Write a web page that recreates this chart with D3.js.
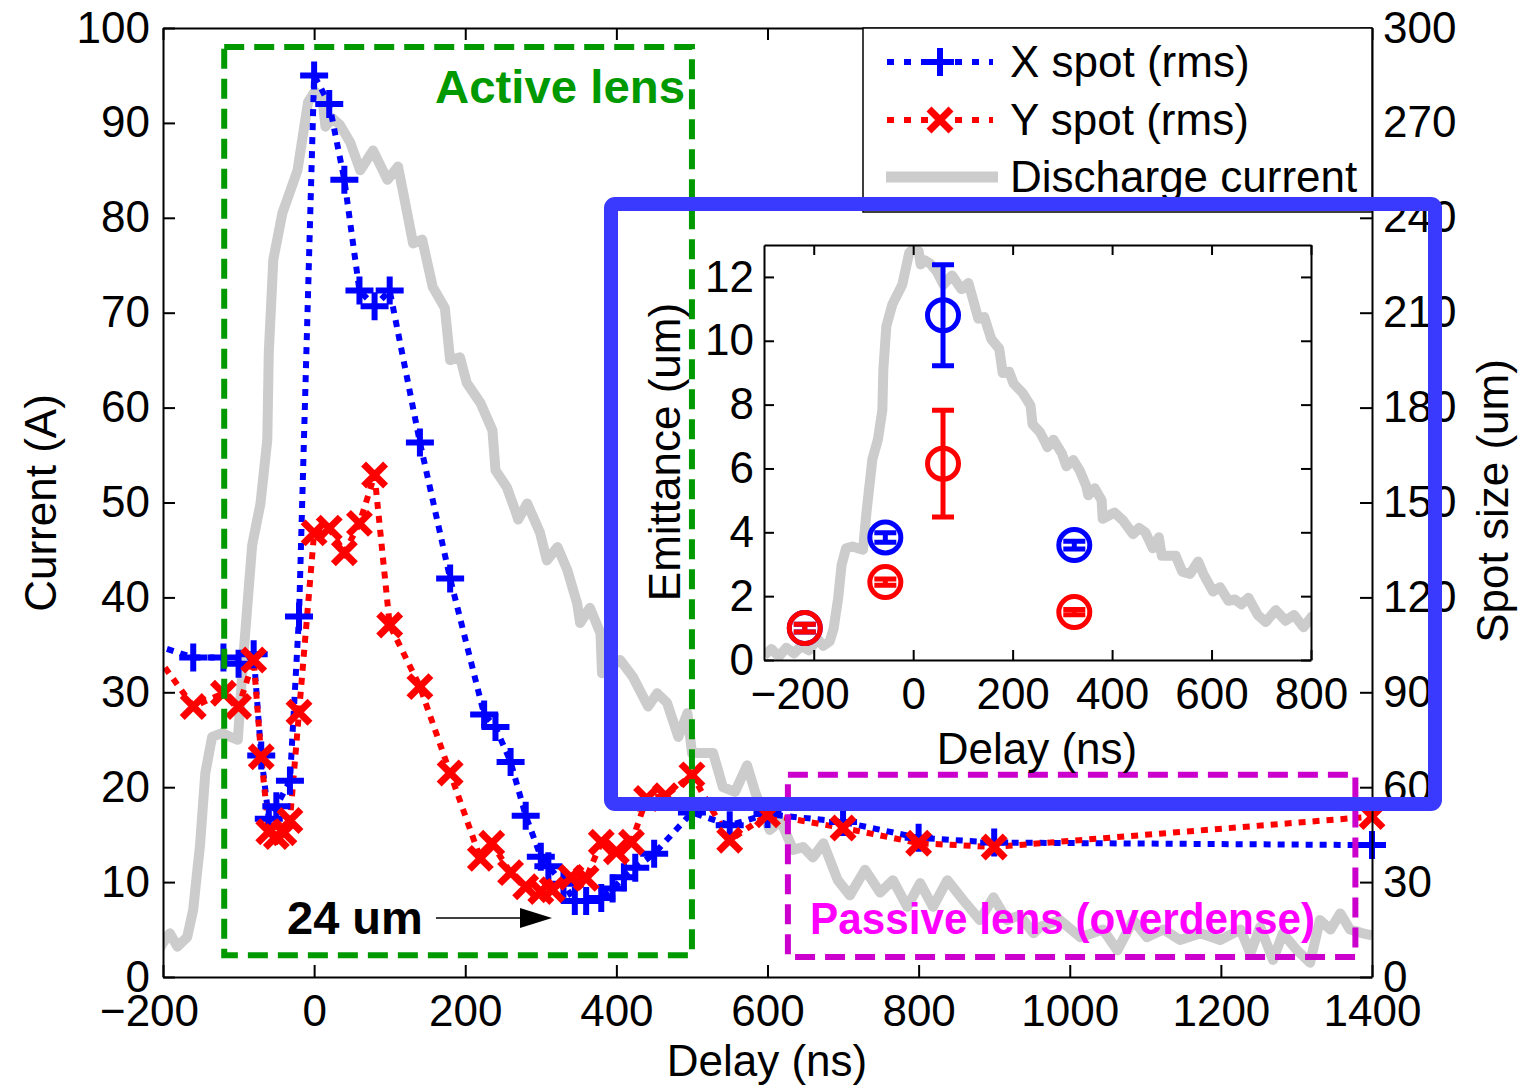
<!DOCTYPE html>
<html>
<head>
<meta charset="utf-8">
<script src="https://cdn.jsdelivr.net/npm/d3@7"></script>
<style>
  body { margin: 0; background: #fff; }
  svg text { font-family: "Liberation Sans", Arial, sans-serif; }
</style>
</head>
<body>
<div id="chart"></div>
<script>
// X spot (rms), um
const xSpotDelay = [-230, -160, -120, -100, -80, -70, -60, -50, -32, -20, 0, 20, 40, 60, 80, 100, 140, 180, 225, 240, 260, 280, 300, 310, 330, 345, 360, 380, 395, 410, 425, 450, 500, 550, 600, 700, 800, 900, 1400]
const xSpotSize = [106.5, 101, 101, 99, 102, 70, 50, 54, 62, 114, 285, 276, 252, 217, 212, 217, 169, 126, 83, 79, 68, 51, 38, 35, 29.5, 24, 24, 25, 28, 31.5, 34.5, 39, 52, 48, 51.5, 49, 44, 42.5, 41.7]

// Y spot (rms), um
const ySpotDelay = [-230, -160, -120, -100, -80, -70, -60, -50, -40, -32, -20, 0, 20, 40, 60, 80, 100, 140, 180, 220, 235, 260, 280, 300, 315, 340, 360, 380, 400, 420, 440, 465, 500, 550, 600, 700, 800, 900, 1400]
const ySpotSize = [108.6, 85.5, 89.7, 85.5, 100.2, 69.6, 45.9, 44.4, 45.6, 49.5, 83.7, 140.4, 141.9, 134.1, 143.4, 158.7, 111.3, 91.8, 64.5, 37.5, 42.3, 33, 28.5, 27, 27.6, 31.5, 31.2, 42.6, 39.6, 42.6, 56.4, 57.3, 63.9, 43.2, 51.3, 47.1, 42.3, 41.1, 50.7]

// discharge current, A
const currentDelay = [-300, -285, -270, -255, -240, -225, -210, -200, -191, -181, -168, -160, -156, -151, -144, -135, -122, -111, -101, -98, -94, -87, -82, -71, -62, -60, -54, -42, -22, -8, 1, 11, 15, 24, 34, 48, 61, 78, 97, 111, 118, 131, 143, 157, 173, 180, 193, 202, 220, 236, 240, 255, 266, 270, 282, 299, 308, 322, 335, 348, 352, 365, 379, 381, 405, 422, 442, 454, 467, 482, 494, 500, 511, 528, 541, 557, 573, 584, 603, 617, 634, 647, 660, 674, 693, 709, 729, 749, 766, 785, 802, 819, 838, 859, 881, 899, 917, 934, 952, 961, 987, 1014, 1044, 1063, 1084, 1102, 1124, 1146, 1173, 1199, 1226, 1239, 1252, 1269, 1282, 1301, 1318, 1331, 1345, 1358, 1371, 1388, 1400]
const currentAmp = [1.0, 2.5, 0.8, 2.8, 1.5, 3.2, 2.2, 3.6, 4.6, 3.2, 4.2, 7.1, 10.2, 13.9, 21.5, 25.3, 25.7, 25.3, 25.0, 28.5, 33.4, 40.5, 45.5, 49.9, 56.6, 65.8, 75.6, 80.5, 85.0, 92.2, 93.3, 92.6, 89.6, 90.5, 89.8, 87.9, 85.0, 87.1, 84.0, 85.4, 82.6, 77.3, 77.7, 72.7, 70.5, 65.0, 65.3, 62.6, 60.5, 57.6, 53.4, 51.6, 49.2, 48.2, 49.9, 46.8, 43.9, 45.3, 42.9, 39.4, 37.3, 38.9, 36.2, 32.0, 33.4, 31.6, 28.5, 29.9, 28.9, 25.3, 27.8, 23.6, 23.6, 23.6, 20.0, 19.5, 22.3, 19.4, 15.5, 16.5, 13.4, 13.7, 12.6, 14.1, 10.2, 8.6, 11.3, 8.9, 10.2, 7.4, 9.9, 7.4, 10.2, 8.1, 6.0, 8.4, 6.0, 6.5, 4.6, 5.3, 6.0, 4.2, 5.0, 2.8, 6.0, 4.2, 5.0, 3.9, 4.6, 3.9, 5.0, 2.5, 5.3, 1.8, 4.6, 2.8, 1.5, 6.0, 5.0, 6.7, 5.0, 4.6, 4.4]

// inset: emittance, um
const emitDelay = [-218, -56, 60, 324]
const emitX = [1.0, 3.84, 10.8, 3.6]
const emitXErr = [0.12, 0.15, 1.58, 0.12]
const emitY = [1.0, 2.44, 6.15, 1.5]
const emitYErr = [0.12, 0.1, 1.67, 0.08]

const delayTicks = [-200, 0, 200, 400, 600, 800, 1000, 1200, 1400]
const currentTicks = d3.range(0, 101, 10)
const spotTicks = d3.range(0, 301, 30)
const insetDelayTicks = [-200, 0, 200, 400, 600, 800]
const insetEmitTicks = [0, 2, 4, 6, 8, 10, 12]

const W = 1520
const H = 1086
const margin = { top: 28, right: 148, bottom: 109, left: 163 }
const FONT = 44

const blue = '#0000ff'
const red = '#ff0000'
const grey = '#cccccc'

const svg = d3.select('#chart')
  .append('svg')
  .attr('width', W)
  .attr('height', H)

const x = d3.scaleLinear().domain([-200, 1400]).range([margin.left, W - margin.right])
const yL = d3.scaleLinear().domain([0, 100]).range([H - margin.bottom, margin.top])
const yR = d3.scaleLinear().domain([0, 300]).range([H - margin.bottom, margin.top])

svg.append('clipPath').attr('id', 'mainClip')
  .append('rect')
  .attr('x', x.range()[0]).attr('y', yL.range()[1])
  .attr('width', x.range()[1] - x.range()[0])
  .attr('height', yL.range()[0] - yL.range()[1])

const plot = svg.append('g').attr('clip-path', 'url(#mainClip)')

const currentLine = d3.line().x(d => x(d[0])).y(d => yL(d[1]))
plot.append('path')
  .datum(d3.zip(currentDelay, currentAmp))
  .attr('d', currentLine)
  .attr('fill', 'none')
  .attr('stroke', grey)
  .attr('stroke-width', 10)
  .attr('stroke-linejoin', 'round')

const spotLine = d3.line().x(d => x(d[0])).y(d => yR(d[1]))

const plusPath = 'M-14,0H14M0,-14V14'
const crossPath = 'M-11,-11L11,11M-11,11L11,-11'

function series(delays, sizes, color, marker, width) {
  const pts = d3.zip(delays, sizes)
  plot.append('path')
    .datum(pts)
    .attr('d', spotLine)
    .attr('fill', 'none')
    .attr('stroke', color)
    .attr('stroke-width', 6)
    .attr('stroke-dasharray', '7,7')
  svg.append('g')
    .selectAll('path')
    .data(pts.filter(d => d[0] >= x.domain()[0] && d[0] <= x.domain()[1]))
    .join('path')
    .attr('transform', d => `translate(${x(d[0])},${yR(d[1])})`)
    .attr('d', marker)
    .attr('stroke', color)
    .attr('stroke-width', width)
    .attr('fill', 'none')
}

series(xSpotDelay, xSpotSize, blue, plusPath, 6)
series(ySpotDelay, ySpotSize, red, crossPath, 7)

// axes
function styleAxis(g) {
  g.attr('font-size', FONT).attr('font-family', '"Liberation Sans", Arial, sans-serif')
  g.selectAll('.domain').attr('stroke', '#000').attr('stroke-width', 2)
  g.selectAll('.tick line').attr('stroke', '#000').attr('stroke-width', 2)
  g.selectAll('.tick text').attr('fill', '#000')
}

const fmt = d3.format('d')

svg.append('g')
  .attr('transform', `translate(0,${yL.range()[0]})`)
  .call(d3.axisBottom(x).tickValues(delayTicks).tickFormat(fmt).tickSize(-12).tickSizeOuter(0).tickPadding(18))
  .call(styleAxis)
  .call(g => g.selectAll('.tick text').attr('dx', d => d < 0 ? -14 : 0))

svg.append('g')
  .attr('transform', `translate(0,${yL.range()[1]})`)
  .call(d3.axisTop(x).tickValues(delayTicks).tickFormat('').tickSize(-12).tickSizeOuter(0))
  .call(styleAxis)

svg.append('g')
  .attr('transform', `translate(${x.range()[0]},0)`)
  .call(d3.axisLeft(yL).tickValues(currentTicks).tickFormat(fmt).tickSize(-12).tickSizeOuter(0).tickPadding(13))
  .call(styleAxis)

svg.append('g')
  .attr('transform', `translate(${x.range()[1]},0)`)
  .call(d3.axisRight(yR).tickValues(spotTicks).tickFormat(fmt).tickSize(-12).tickSizeOuter(0).tickPadding(11))
  .call(styleAxis)

svg.append('text')
  .attr('x', 767).attr('y', 1076)
  .attr('text-anchor', 'middle')
  .attr('font-size', FONT)
  .text('Delay (ns)')

svg.append('text')
  .attr('transform', 'translate(56,503) rotate(-90)')
  .attr('text-anchor', 'middle')
  .attr('font-size', FONT)
  .text('Current (A)')

svg.append('text')
  .attr('transform', 'translate(1508,501) rotate(-90)')
  .attr('text-anchor', 'middle')
  .attr('font-size', FONT)
  .text('Spot size (um)')

// annotation boxes
svg.append('rect')
  .attr('x', x(-119)).attr('y', yL(98))
  .attr('width', x(500) - x(-119)).attr('height', yL(2.3) - yL(98))
  .attr('fill', 'none')
  .attr('stroke', '#009900')
  .attr('stroke-width', 6)
  .attr('stroke-dasharray', '20,10')

svg.append('rect')
  .attr('x', x(627)).attr('y', yL(21.3))
  .attr('width', x(1378) - x(627)).attr('height', yL(2.1) - yL(21.3))
  .attr('fill', 'none')
  .attr('stroke', '#cc00cc')
  .attr('stroke-width', 6)
  .attr('stroke-dasharray', '20,10')

svg.append('text')
  .attr('x', 685).attr('y', 103)
  .attr('text-anchor', 'end')
  .attr('font-size', 46).attr('font-weight', 'bold')
  .attr('fill', '#009900')
  .attr('textLength', 250).attr('lengthAdjust', 'spacingAndGlyphs')
  .text('Active lens')

svg.append('text')
  .attr('x', 810).attr('y', 934)
  .attr('font-size', 44).attr('font-weight', 'bold')
  .attr('fill', '#ff00ff')
  .attr('textLength', 505).attr('lengthAdjust', 'spacingAndGlyphs')
  .text('Passive lens (overdense)')

svg.append('text')
  .attr('x', 287).attr('y', 934)
  .attr('font-size', 47).attr('font-weight', 'bold')
  .attr('fill', '#000')
  .text('24 um')

svg.append('line')
  .attr('x1', 436).attr('y1', 918).attr('x2', 524).attr('y2', 918)
  .attr('stroke', '#000').attr('stroke-width', 1.5)
svg.append('path')
  .attr('d', 'M520,908L552,918L520,928Z')
  .attr('fill', '#000')

// legend
const legend = svg.append('g')
legend.append('rect')
  .attr('x', 863).attr('y', 28).attr('width', 509).attr('height', 184)
  .attr('fill', '#fff').attr('stroke', '#000').attr('stroke-width', 1.5)

const legendItems = [
  { label: 'X spot (rms)', color: blue, marker: plusPath, mw: 6, y: 62 },
  { label: 'Y spot (rms)', color: red, marker: crossPath, mw: 7, y: 120 }
]
legendItems.forEach(item => {
  legend.append('line')
    .attr('x1', 887).attr('x2', 993).attr('y1', item.y).attr('y2', item.y)
    .attr('stroke', item.color).attr('stroke-width', 6).attr('stroke-dasharray', '7,10')
  legend.append('path')
    .attr('transform', `translate(940,${item.y})`)
    .attr('d', item.marker)
    .attr('stroke', item.color).attr('stroke-width', item.mw).attr('fill', 'none')
  legend.append('text')
    .attr('x', 1010).attr('y', item.y + 15)
    .attr('font-size', FONT)
    .text(item.label)
})
legend.append('line')
  .attr('x1', 886).attr('x2', 998).attr('y1', 177).attr('y2', 177)
  .attr('stroke', grey).attr('stroke-width', 11)
legend.append('text')
  .attr('x', 1010).attr('y', 192)
  .attr('font-size', FONT)
  .text('Discharge current')

// inset
const xi = d3.scaleLinear().domain([-300, 800]).range([764, 1311])
const yi = d3.scaleLinear().domain([0, 13]).range([660, 245])
const yCurI = d3.scaleLinear().domain([0, 94]).range([660, 245])

const inset = svg.append('g')
inset.append('rect')
  .attr('x', xi.range()[0]).attr('y', yi.range()[1])
  .attr('width', xi.range()[1] - xi.range()[0])
  .attr('height', yi.range()[0] - yi.range()[1])
  .attr('fill', '#fff')

svg.append('clipPath').attr('id', 'insetClip')
  .append('rect')
  .attr('x', xi.range()[0]).attr('y', yi.range()[1])
  .attr('width', xi.range()[1] - xi.range()[0])
  .attr('height', yi.range()[0] - yi.range()[1])

inset.append('path')
  .datum(d3.zip(currentDelay, currentAmp))
  .attr('clip-path', 'url(#insetClip)')
  .attr('d', d3.line().x(d => xi(d[0])).y(d => yCurI(d[1])))
  .attr('fill', 'none')
  .attr('stroke', grey)
  .attr('stroke-width', 10)
  .attr('stroke-linejoin', 'round')

function emitSeries(vals, errs, color) {
  const pts = d3.zip(emitDelay, vals, errs)
  const g = inset.append('g')
    .attr('stroke', color)
    .attr('fill', 'none')
    .attr('stroke-width', 5)
  g.selectAll('.err')
    .data(pts)
    .join('path')
    .attr('d', d => {
      const cx = xi(d[0])
      const lo = yi(d[1] - d[2])
      const hi = yi(d[1] + d[2])
      return `M${cx},${lo}V${hi}M${cx - 11},${lo}H${cx + 11}M${cx - 11},${hi}H${cx + 11}`
    })
  g.selectAll('circle')
    .data(pts)
    .join('circle')
    .attr('cx', d => xi(d[0]))
    .attr('cy', d => yi(d[1]))
    .attr('r', 15.5)
}
emitSeries(emitX, emitXErr, blue)
emitSeries(emitY, emitYErr, red)

inset.append('g')
  .attr('transform', `translate(0,${yi.range()[0]})`)
  .call(d3.axisBottom(xi).tickValues(insetDelayTicks).tickFormat(fmt).tickSize(-10).tickSizeOuter(0).tickPadding(18))
  .call(styleAxis)
  .call(g => g.selectAll('.tick text').attr('dx', d => d < 0 ? -14 : 0))

inset.append('g')
  .attr('transform', `translate(0,${yi.range()[1]})`)
  .call(d3.axisTop(xi).tickValues(insetDelayTicks).tickFormat('').tickSize(-10).tickSizeOuter(0))
  .call(styleAxis)

inset.append('g')
  .attr('transform', `translate(${xi.range()[0]},0)`)
  .call(d3.axisLeft(yi).tickValues(insetEmitTicks).tickFormat(fmt).tickSize(-10).tickSizeOuter(0).tickPadding(10))
  .call(styleAxis)

inset.append('g')
  .attr('transform', `translate(${xi.range()[1]},0)`)
  .call(d3.axisRight(yi).tickValues(insetEmitTicks).tickFormat('').tickSize(-10).tickSizeOuter(0))
  .call(styleAxis)

inset.append('text')
  .attr('x', 1037).attr('y', 764)
  .attr('text-anchor', 'middle')
  .attr('font-size', FONT)
  .text('Delay (ns)')

inset.append('text')
  .attr('transform', 'translate(680,452) rotate(-90)')
  .attr('text-anchor', 'middle')
  .attr('font-size', FONT)
  .text('Emittance (um)')

// blue frame around inset
svg.append('rect')
  .attr('x', 611).attr('y', 204).attr('width', 824).attr('height', 600)
  .attr('rx', 4)
  .attr('fill', 'none')
  .attr('stroke', '#3a3aff')
  .attr('stroke-width', 14)
  .attr('stroke-linejoin', 'round')
</script>
</body>
</html>
